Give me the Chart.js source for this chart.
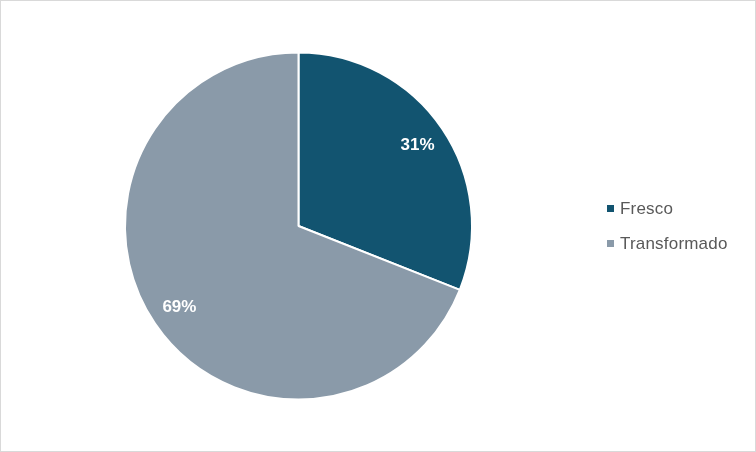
<!DOCTYPE html>
<html>
<head>
<meta charset="utf-8">
<script src="https://cdn.jsdelivr.net/npm/chart.js@4"></script>
<style>
    html, body { margin: 0; padding: 0; background: #fff; }
    #wrap {
        position: relative;
        width: 754px;
        height: 450px;
        border: 1px solid #d9d9d9;
        font-family: "Liberation Sans", Arial, sans-serif;
    }
    #chart { position: absolute; left: 0; top: 0; }
    #legend { position: absolute; left: 606px; top: 197px; }
    .item { height: 35px; line-height: 22px; font-size: 17px; color: #595959; letter-spacing: 0.2px; }
    .box { display: inline-block; width: 7px; height: 7px; margin-right: 6px; vertical-align: 2px; }
</style>
</head>
<body>
<div id="wrap">
    <canvas id="chart" width="754" height="450"></canvas>
    <div id="legend"></div>
</div>
<script>
const categories = ['Fresco', 'Transformado'];
const shares = [31, 69];
const colors = ['#125470', '#8a9aa9'];

// percentage labels, drawn inside each slice
const sliceLabels = {
    id: 'sliceLabels',
    afterDatasetsDraw(chart) {
        const ctx = chart.ctx;
        const meta = chart.getDatasetMeta(0);
        ctx.save();
        ctx.font = 'bold 17px "Liberation Sans", Arial, sans-serif';
        ctx.fillStyle = '#ffffff';
        ctx.textAlign = 'center';
        ctx.textBaseline = 'middle';
        meta.data.forEach((arc, i) => {
            const p = arc.getProps(['x', 'y', 'startAngle', 'endAngle', 'outerRadius']);
            const mid = (p.startAngle + p.endAngle) / 2;
            const r = p.outerRadius * 0.83;
            ctx.fillText(shares[i] + '%', p.x + Math.cos(mid) * r, p.y + Math.sin(mid) * r);
        });
        ctx.restore();
    }
};

const ctx = document.getElementById('chart').getContext('2d');
new Chart(ctx, {
    type: 'pie',
    data: {
        labels: categories,
        datasets: [{
            data: shares,
            backgroundColor: colors,
            borderColor: '#ffffff',
            borderWidth: 2
        }]
    },
    options: {
        responsive: false,
        animation: false,
        layout: { padding: { left: 123, right: 282, top: 50, bottom: 50 } },
        plugins: {
            legend: { display: false },
            tooltip: { enabled: false }
        }
    },
    plugins: [sliceLabels]
});

const legend = document.getElementById('legend');
categories.forEach((name, i) => {
    const row = document.createElement('div');
    row.className = 'item';
    const box = document.createElement('span');
    box.className = 'box';
    box.style.background = colors[i];
    row.appendChild(box);
    row.appendChild(document.createTextNode(name));
    legend.appendChild(row);
});
</script>
</body>
</html>
